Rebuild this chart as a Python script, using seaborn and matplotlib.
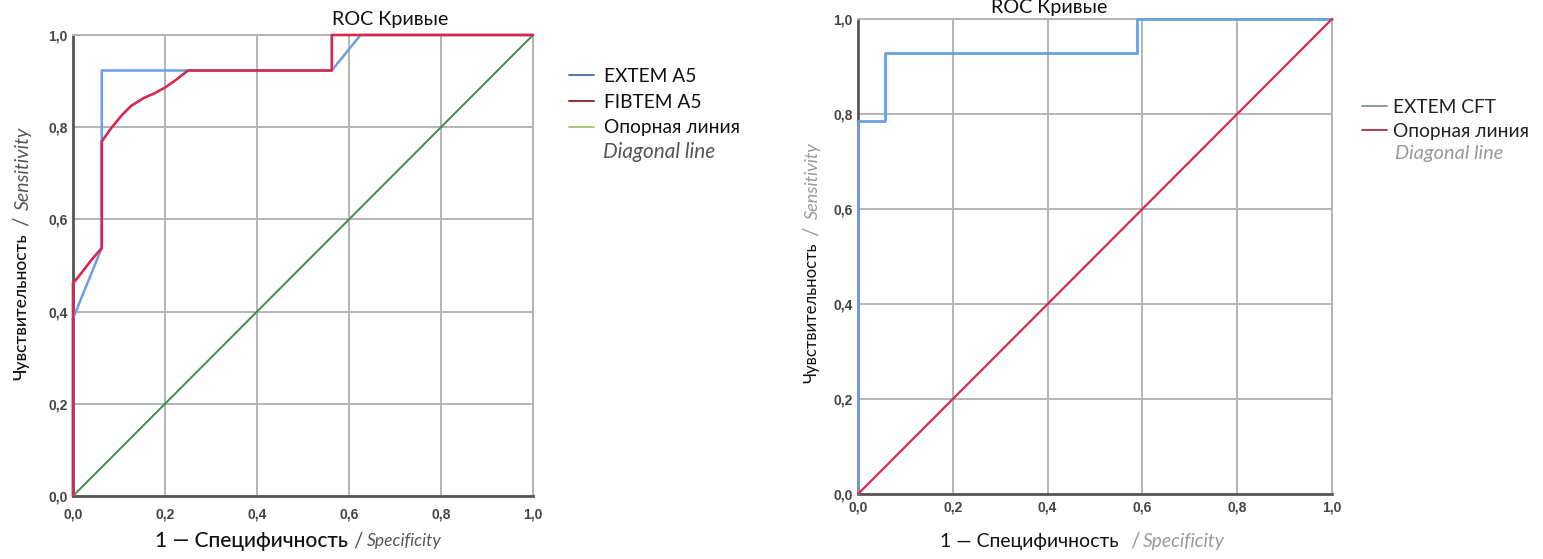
import matplotlib
matplotlib.use("Agg")
import matplotlib.pyplot as plt
from matplotlib.lines import Line2D
import seaborn as sns

# ---------------- data ----------------
# Left panel: EXTEM A5 / FIBTEM A5
extem_a5_fpr = [0.0, 0.0, 0.0625, 0.0625, 0.5625, 0.625, 1.0]
extem_a5_tpr = [0.0, 0.385, 0.538, 0.923, 0.923, 1.0, 1.0]

fibtem_a5_fpr = [0.0, 0.0, 0.009, 0.04, 0.0625, 0.0625, 0.083, 0.106, 0.126, 0.153,
                 0.176, 0.2, 0.223, 0.25, 0.5625, 0.5625, 1.0]
fibtem_a5_tpr = [0.0, 0.462, 0.472, 0.512, 0.538, 0.769, 0.798, 0.826, 0.846, 0.863,
                 0.873, 0.886, 0.902, 0.923, 0.923, 1.0, 1.0]

# Right panel: EXTEM CFT
extem_cft_fpr = [0.0, 0.0, 0.056, 0.056, 0.588, 0.588, 1.0]
extem_cft_tpr = [0.0, 0.786, 0.786, 0.929, 0.929, 1.0, 1.0]

diag = [0.0, 1.0]

ticks = [0.0, 0.2, 0.4, 0.6, 0.8, 1.0]
tick_labels = ["0,0", "0,2", "0,4", "0,6", "0,8", "1,0"]

title_text = "ROC Кривые"
xlabel_ru = "1 — Специфичность"
xlabel_en = "Specificity"
ylabel_ru = "Чувствительность"
ylabel_en = "Sensitivity"
left_legend = ["EXTEM A5", "FIBTEM A5", "Опорная линия"]
right_legend = ["EXTEM CFT", "Опорная линия"]
diag_en = "Diagonal line"

# ---------------- style ----------------
sns.set_style("white")
plt.rcParams["font.family"] = ["Lato", "DejaVu Sans"]

W, H = 1543, 559
fig = plt.figure(figsize=(W / 100, H / 100), dpi=100)
renderer = fig.canvas.get_renderer()


def fx(px):
    return px / W


def fy(py):
    return 1 - py / H


def fit_h(s, x0, x1, y, base=12, **kw):
    """Horizontal text spanning pixel columns x0..x1, centred on row y."""
    t = fig.text(fx(x0), fy(y), s, fontsize=base, ha="left", va="center", **kw)
    w = t.get_window_extent(renderer).width
    t.set_fontsize(base * (x1 - x0) / w)
    return t


def chain_v(parts, x, y_center, gap=6):
    """Rotated label made of differently styled parts, centred on row y_center."""
    texts = []
    for s, size, dx, kw in parts:
        t = fig.text(fx(x + dx), 0, s, fontsize=size, ha="center", va="bottom",
                     rotation=90, **kw)
        texts.append(t)
    heights = [t.get_window_extent(renderer).height for t in texts]
    total = sum(heights) + gap * (len(texts) - 1)
    y = y_center + total / 2  # bottom pixel (from top)
    for t, h in zip(texts, heights):
        t.set_y(fy(y))
        y -= h + gap
    return texts


BLUE = "#6a9fe2"
RED = "#d42a50"
GREEN = "#3d8f3d"
GRID = "#b4b4b4"
SPINE = "#555555"


def style_axes(ax, pad_x):
    ax.set_xlim(0, 1)
    ax.set_ylim(0, 1)
    ax.set_xticks(ticks)
    ax.set_yticks(ticks)
    ax.set_xticklabels(tick_labels, fontfamily="Liberation Sans", fontweight="bold",
                       fontsize=10, color="#444444")
    ax.set_yticklabels(tick_labels, fontfamily="Liberation Sans", fontweight="bold",
                       fontsize=10, color="#444444")
    ax.tick_params(axis="both", length=0)
    ax.tick_params(axis="x", pad=pad_x)
    ax.tick_params(axis="y", pad=4)
    ax.grid(True, color=GRID, linewidth=1.4)
    ax.set_axisbelow(True)
    for s in ["top", "right"]:
        ax.spines[s].set_color(GRID)
        ax.spines[s].set_linewidth(1.4)
    for s in ["left", "bottom"]:
        ax.spines[s].set_color(SPINE)
        ax.spines[s].set_linewidth(2.0)
    ax.set_xlabel("")
    ax.set_ylabel("")
    for i, ln in enumerate(ax.lines):
        ln.set_clip_on(False)
        ln.set_zorder(3 + i * 0.1)


# ---------- left panel ----------
ax1 = fig.add_axes([fx(73), fy(496), 460 / W, 461 / H])
sns.lineplot(x=diag, y=diag, ax=ax1, color=GREEN, linewidth=1.4, sort=False, estimator=None)
sns.lineplot(x=extem_a5_fpr, y=extem_a5_tpr, ax=ax1, color=BLUE, linewidth=1.8,
             sort=False, estimator=None)
sns.lineplot(x=fibtem_a5_fpr, y=fibtem_a5_tpr, ax=ax1, color=RED, linewidth=1.9,
             sort=False, estimator=None)
style_axes(ax1, pad_x=8)

handles1 = [Line2D([], [], color="#4a6aa5", lw=1.3),
            Line2D([], [], color="#8e1c24", lw=1.3),
            Line2D([], [], color="#a8c470", lw=1.3)]
leg1 = ax1.legend(handles1, left_legend, loc="upper left", frameon=False,
                  bbox_to_anchor=(fx(569), fy(68)), bbox_transform=fig.transFigure,
                  fontsize=13.8, handlelength=1.3, handletextpad=0.5,
                  labelspacing=0.45, borderpad=0, borderaxespad=0)
for t in leg1.get_texts():
    t.set_color("#111111")
fit_h(diag_en, 603, 715, 152, style="italic", color="#555555")

# title
fit_h(title_text, 332, 448, 19, color="#111111")

# x label left
fit_h(xlabel_ru, 155, 347, 541, color="#111111", fontweight="medium")
fig.text(fx(358), fy(541), "/", fontsize=15, ha="center", va="center", color="#555555")
fit_h(xlabel_en, 367, 442, 541, color="#555555", style="italic")

# y label left
chain_v([(ylabel_ru, 12.5, 0, dict(color="#111111", fontweight="medium")),
         ("/", 15, 1, dict(color="#555555")),
         (ylabel_en, 14, 2, dict(color="#555555", style="italic"))],
        x=21, y_center=253, gap=7)

# ---------- right panel ----------
ax2 = fig.add_axes([fx(858), fy(494), 474 / W, 475 / H])
sns.lineplot(x=extem_cft_fpr, y=extem_cft_tpr, ax=ax2, color=BLUE, linewidth=2.0,
             sort=False, estimator=None)
sns.lineplot(x=diag, y=diag, ax=ax2, color=RED, linewidth=1.6, sort=False, estimator=None)
style_axes(ax2, pad_x=5)

handles2 = [Line2D([], [], color="#8090a0", lw=1.3),
            Line2D([], [], color="#a83040", lw=1.3)]
leg2 = ax2.legend(handles2, right_legend, loc="upper left", frameon=False,
                  bbox_to_anchor=(fx(1362), fy(99)), bbox_transform=fig.transFigure,
                  fontsize=13.8, handlelength=1.3, handletextpad=0.3,
                  labelspacing=0.35, borderpad=0, borderaxespad=0)
for t in leg2.get_texts():
    t.set_color("#222222")
fit_h(diag_en, 1395, 1503, 153, style="italic", color="#999999")

fit_h(title_text, 991, 1107, 8, color="#111111")

fit_h(xlabel_ru, 940, 1118, 541, color="#111111")
fig.text(fx(1135), fy(541), "/", fontsize=15, ha="center", va="center", color="#999999")
fit_h(xlabel_en, 1143, 1225, 541, color="#999999", style="italic")

chain_v([(ylabel_ru, 12, 0, dict(color="#111111")),
         ("/", 15, 1, dict(color="#999999")),
         (ylabel_en, 13, 2, dict(color="#999999", style="italic"))],
        x=811, y_center=263, gap=7)

fig.savefig("out.png", dpi=100, facecolor="white")
